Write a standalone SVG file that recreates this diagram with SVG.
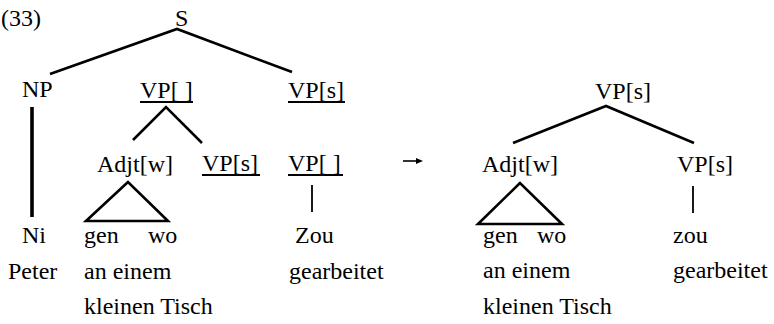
<svg xmlns="http://www.w3.org/2000/svg" width="774" height="324" viewBox="0 0 774 324">
  <style>
    text { font-family: "Liberation Serif", "Times New Roman", serif; font-size: 24px; fill: #000; }
    .edge { stroke: #000; stroke-width: 2.6; fill: none; stroke-linecap: butt; }
    .thin { stroke: #000; stroke-width: 1.8; fill: none; }
    .thick { stroke: #000; stroke-width: 3.6; fill: none; }
    .ul { stroke: #000; stroke-width: 1.8; }
  </style>
  <rect width="774" height="324" fill="#fff"/>

  <text id="example-number" x="1" y="26">(33)</text>

  <!-- left tree connectors -->
  <g id="connectors">
    <polyline class="edge" points="50,74 177,29 292,72"/>
    <polyline class="edge" points="133,140 166,107 202,143"/>
    <line class="thick" x1="32" y1="107" x2="32" y2="217"/>
    <polygon class="edge" points="128,182 86,221 168,221"/>
    <line class="thin" x1="312" y1="185" x2="312" y2="212"/>

    <!-- right tree connectors -->
    <polyline class="edge" points="513,143 606,106 694,143"/>
    <polygon class="edge" points="520,183 478,224 562,224"/>
    <line class="thin" x1="693" y1="186" x2="693" y2="213"/>
  </g>

  <!-- left tree nodes -->
  <g id="node-S"><text x="175" y="26">S</text></g>
  <g id="node-NP"><text x="22" y="97">NP</text></g>
  <g id="node-VP-empty"><text x="140" y="98">VP[ ]</text><line class="ul" x1="140" y1="102" x2="193" y2="102"/></g>
  <g id="node-VP-s-top"><text x="288" y="98">VP[s]</text><line class="ul" x1="288" y1="102" x2="345" y2="102"/></g>
  <g id="node-Adjt"><text x="97" y="172">Adjt[w]</text></g>
  <g id="node-VP-s-mid"><text x="202" y="171">VP[s]</text><line class="ul" x1="202" y1="175" x2="260" y2="175"/></g>
  <g id="node-VP-empty-mid"><text x="288" y="171">VP[ ]</text><line class="ul" x1="288" y1="175" x2="343" y2="175"/></g>
  <g id="node-Ni"><text x="22" y="243">Ni</text><text x="8" y="279">Peter</text></g>
  <g id="node-genwo"><text x="84" y="243">gen</text><text x="148" y="243">wo</text><text x="84" y="279">an einem</text><text x="84" y="314">kleinen Tisch</text></g>
  <g id="node-Zou"><text x="295" y="243">Zou</text><text x="289" y="279">gearbeitet</text></g>

  <!-- rewrite arrow -->
  <g id="arrow">
    <line x1="403" y1="161" x2="418" y2="161" stroke="#000" stroke-width="1.6"/>
    <path d="M416,158 L423,161 L416,164 Z" fill="#000"/>
  </g>

  <!-- right tree nodes -->
  <g id="node-R-VP"><text x="595" y="99">VP[s]</text></g>
  <g id="node-R-Adjt"><text x="482" y="172">Adjt[w]</text></g>
  <g id="node-R-VP-s"><text x="677" y="172">VP[s]</text></g>
  <g id="node-R-genwo"><text x="483" y="243">gen</text><text x="537" y="243">wo</text><text x="483" y="278">an einem</text><text x="483" y="314">kleinen Tisch</text></g>
  <g id="node-R-zou"><text x="673" y="243">zou</text><text x="673" y="278">gearbeitet</text></g>
</svg>
